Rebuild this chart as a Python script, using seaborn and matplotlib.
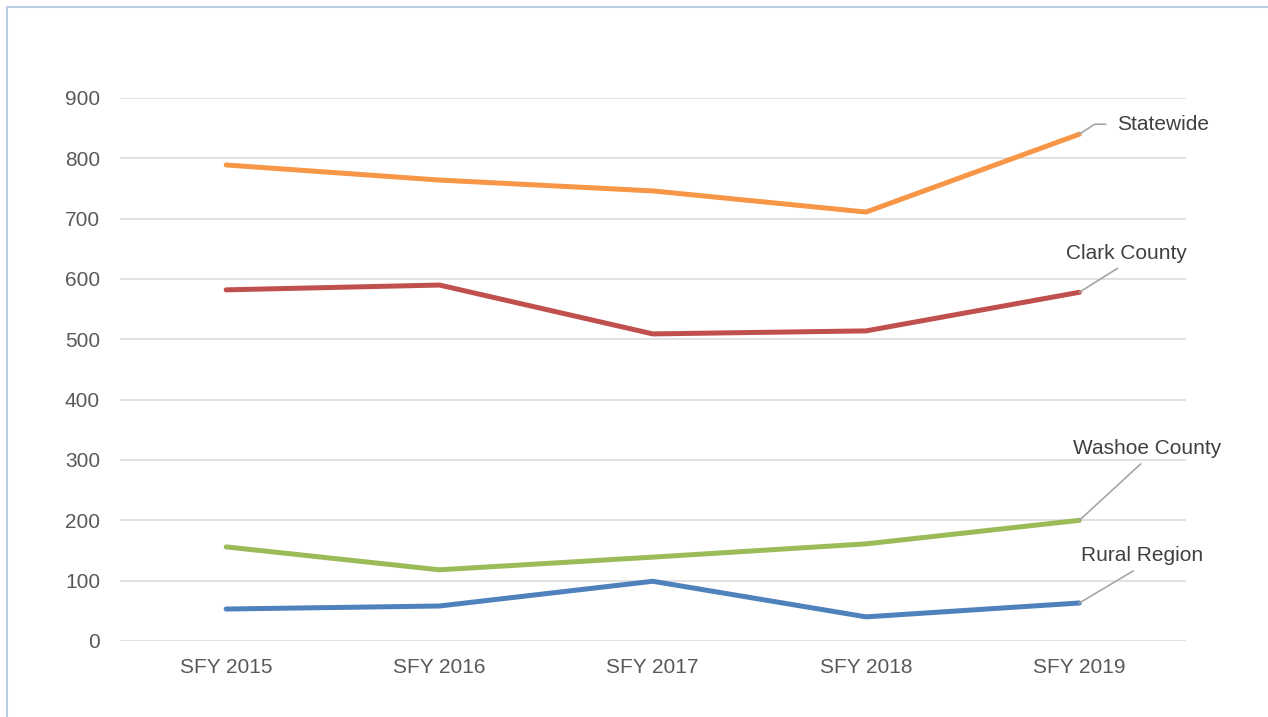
"""
plot.py

Line chart of yearly counts by region, SFY 2015-2019.
"""

import pandas as pd
import seaborn as sns
import matplotlib.pyplot as plt
from matplotlib.lines import Line2D


YEARS = ["SFY 2015", "SFY 2016", "SFY 2017", "SFY 2018", "SFY 2019"]
STATEWIDE = [789, 764, 746, 711, 840]
CLARK = [582, 590, 509, 514, 578]
WASHOE = [156, 118, 139, 161, 200]
RURAL = [53, 58, 99, 40, 63]

SERIES = ["Statewide", "Clark County", "Washoe County", "Rural Region"]
COLORS = ["#F79646", "#C0504D", "#9BBB59", "#4F81BD"]
TEXT_COLOR = "#595959"


def main():
    df = pd.DataFrame({
        "year": YEARS * 4,
        "value": STATEWIDE + CLARK + WASHOE + RURAL,
        "series": [s for s in SERIES for _ in YEARS],
    })

    sns.set_style("white")
    plt.rcParams["font.family"] = ["Liberation Sans", "DejaVu Sans"]

    fig = plt.figure(figsize=(12.68, 7.17), dpi=100)
    ax = fig.add_axes([119.5 / 1268, 1 - 641 / 717, (1186 - 119.5) / 1268, (641 - 98) / 717])

    sns.lineplot(
        data=df, x="year", y="value", hue="series", hue_order=SERIES,
        palette=COLORS, linewidth=3.6, legend=False, ax=ax,
        solid_capstyle="round", solid_joinstyle="round", zorder=3,
    )

    ax.set_xlim(-0.5, len(YEARS) - 0.5)
    ax.set_ylim(0, 900)
    ax.set_yticks(range(0, 901, 100))
    ax.grid(axis="y", color="#d9d9d9", linewidth=1.1)
    ax.set_axisbelow(True)
    for side in ax.spines.values():
        side.set_visible(False)
    ax.set_xlabel("")
    ax.set_ylabel("")
    ax.tick_params(axis="x", length=0, pad=12, labelsize=15, labelcolor=TEXT_COLOR)
    ax.tick_params(axis="y", length=0, pad=14, labelsize=15, labelcolor=TEXT_COLOR)

    leader = dict(arrowstyle="-", color="#a6a6a6", linewidth=1.2, shrinkB=0)
    last = len(YEARS) - 1

    # Statewide: label to the right with a bent leader
    ax.annotate(
        "Statewide", xy=(last, STATEWIDE[-1]), xytext=(38, 10),
        textcoords="offset pixels", ha="left", va="center",
        fontsize=15, color="#404040",
        arrowprops=dict(leader, relpos=(0, 0.5), shrinkA=6,
                        connectionstyle="angle,angleA=0,angleB=33,rad=0"),
    )

    others = [
        ("Clark County", CLARK[-1], (47, 39)),
        ("Washoe County", WASHOE[-1], (68, 72)),
        ("Rural Region", RURAL[-1], (63, 47)),
    ]
    for name, val, off in others:
        ax.annotate(
            name, xy=(last, val), xytext=off, textcoords="offset pixels",
            ha="center", va="center", fontsize=15, color="#404040",
            arrowprops=dict(leader, relpos=(0.5, 0), shrinkA=3),
        )

    # light frame around the chart area (only left and top visible)
    frame = "#b9cde5"
    fig.add_artist(Line2D([7 / 1268, 7 / 1268], [0, 1 - 7 / 717],
                          transform=fig.transFigure, color=frame, linewidth=1.5))
    fig.add_artist(Line2D([7 / 1268, 1], [1 - 7 / 717, 1 - 7 / 717],
                          transform=fig.transFigure, color=frame, linewidth=1.5))

    fig.savefig("out.png", dpi=100)


if __name__ == "__main__":
    main()
